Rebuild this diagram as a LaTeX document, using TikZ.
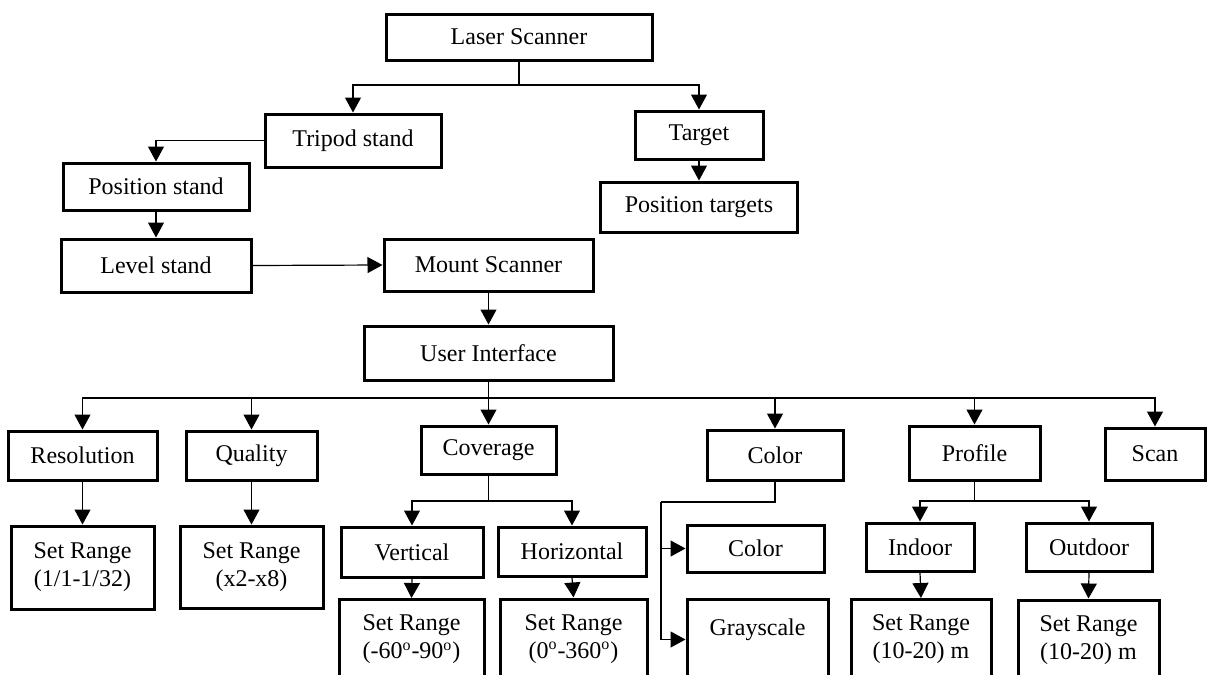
\documentclass[tikz,border=0pt]{standalone}
\usepackage{fontspec}
\setmainfont{Liberation Serif}
\usetikzlibrary{arrows.meta}

\begin{document}
\begin{tikzpicture}[x=0.5pt,y=-0.5pt,font=\fontsize{12}{14}\selectfont,
		box/.style={draw,line width=1.5pt,inner sep=2pt,align=center},
		tallbox/.style={box,minimum height=40pt},
		arr/.style={line width=0.6pt,-{Triangle[length=7.5pt,width=8pt]}},
		line/.style={line width=0.6pt}]
		\useasboundingbox (0,0) rectangle (1207,675);

		\node[box,minimum width=133pt,minimum height=23pt] (laser) at (519,37) {Laser Scanner};
		\node[box,minimum width=88pt,minimum height=26.5pt] (tripod) at (353,140.5) {Tripod stand};
		\node[box,minimum width=64pt,minimum height=24pt] (target) at (699,135) {Target};
		\node[box,minimum width=98.5pt,minimum height=25pt] (postarg) at (699,207) {Position targets};
		\node[box,minimum width=93pt,minimum height=23.5pt] (posstand) at (156,186.5) {Position stand};
		\node[box,minimum width=95pt,minimum height=26.5pt] (level) at (156,265.5) {Level stand};
		\node[box,minimum width=104.5pt,minimum height=26pt] (mount) at (488.5,265) {Mount Scanner};
		\node[box,minimum width=124.5pt,minimum height=27pt] (ui) at (488.5,353) {User Interface};

		\node[box,minimum width=74.5pt,minimum height=24.5pt] (res) at (82.5,455.5) {Resolution};
		\node[box,minimum width=65.5pt,minimum height=24.5pt] (qual) at (251.5,455.5) {Quality};
		\node[box,minimum width=67.5pt,minimum height=24pt] (cov) at (488.5,450) {Coverage};
		\node[box,minimum width=68pt,minimum height=25pt] (col) at (775,455) {Color};
		\node[box,minimum width=65.5pt,minimum height=27pt] (prof) at (974.5,453) {Profile};
		\node[box,minimum width=50pt,minimum height=26pt] (scan) at (1155,454) {Scan};

		\node[box,minimum width=71.5pt,minimum height=41.5pt] (setres) at (82.5,567.5) {Set Range\\(1/1-1/32)};
		\node[box,minimum width=71.5pt,minimum height=41pt] (setqual) at (251.5,567) {Set Range\\(x2-x8)};
		\node[box,minimum width=71pt,minimum height=25pt] (vert) at (412,552) {Vertical};
		\node[box,minimum width=74pt,minimum height=24.5pt] (horiz) at (572,551.5) {Horizontal};
		\node[tallbox,minimum width=72.5pt] (setvert) at (411.5,639.5) {Set Range\\(-60\textsuperscript{o}-90\textsuperscript{o})};
		\node[tallbox,minimum width=73.5pt] (sethoriz) at (573.5,639) {Set Range\\(0\textsuperscript{o}-360\textsuperscript{o})};
		\node[box,minimum width=68.5pt,minimum height=23.5pt] (colsub) at (755.5,548.5) {Color};
		\node[tallbox,minimum width=70.5pt,text height=9pt,text depth=13.5pt] (gray) at (757.5,639.5) {Grayscale};
		\node[box,minimum width=54pt,minimum height=24pt] (indoor) at (920,547) {Indoor};
		\node[box,minimum width=63pt,minimum height=24pt] (outdoor) at (1089,547) {Outdoor};
		\node[tallbox,minimum width=70pt] (setin) at (921,639.5) {Set Range\\(10-20) m};
		\node[tallbox,minimum width=70.5pt] (setout) at (1088.5,640) {Set Range\\(10-20) m};

		\coordinate (j1) at (519,85);
		\coordinate (j2) at (488.5,398);
		\coordinate (j3) at (488.5,501);
		\coordinate (j5) at (661,502);
		\coordinate (j6) at (974.5,501);

		\draw[line] (laser.south) -- (j1);
		\draw[arr] (j1) -| (tripod.north);
		\draw[arr] (j1) -| (target.north);
		\draw[arr] (target.south) -- (postarg.north);
		\draw[arr] (tripod.west) -| (posstand.north);
		\draw[arr] (posstand.south) -- (level.north);
		\draw[arr] (level.east) -- (mount.west);
		\draw[arr] (mount.south) -- (ui.north);

		\draw[line] (ui.south) -- (j2);
		\draw[arr] (j2) -| (res.north);
		\draw[arr] (j2) -| (qual.north);
		\draw[arr] (j2) -- (cov.north);
		\draw[arr] (j2) -| (col.north);
		\draw[arr] (j2) -| (prof.north);
		\draw[arr] (j2) -| (scan.north);

		\draw[arr] (res.south) -- (setres.north);
		\draw[arr] (qual.south) -- (setqual.north);

		\draw[line] (cov.south) -- (j3);
		\draw[arr] (j3) -| (vert.north);
		\draw[arr] (j3) -| (horiz.north);
		\draw[arr] (vert.south) -- (setvert.north);
		\draw[arr] (horiz.south) -- (sethoriz.north);

		\draw[line] (col.south) |- (j5);
		\draw[arr] (j5) |- (colsub.west);
		\draw[arr] (j5) |- (gray.west);

		\draw[line] (prof.south) -- (j6);
		\draw[arr] (j6) -| (indoor.north);
		\draw[arr] (j6) -| (outdoor.north);
		\draw[arr] (indoor.south) -- (setin.north);
		\draw[arr] (outdoor.south) -- (setout.north);
	\end{tikzpicture}
\end{document}
